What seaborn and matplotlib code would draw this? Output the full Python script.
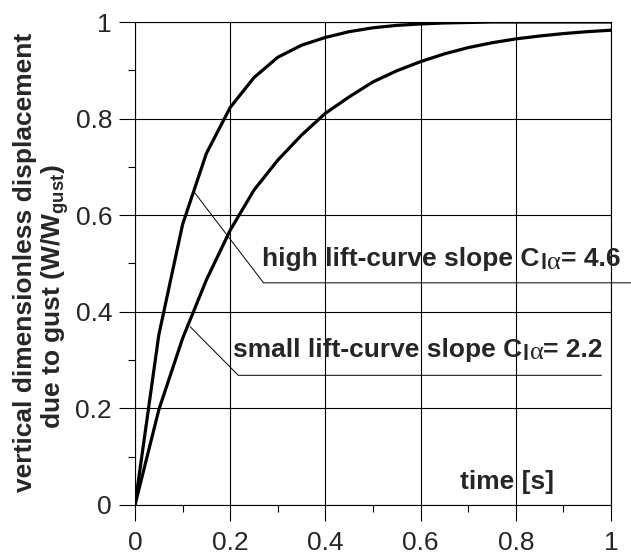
import numpy as np
import pandas as pd
import matplotlib
matplotlib.use("Agg")
import matplotlib.pyplot as plt
import seaborn as sns
from matplotlib.ticker import MultipleLocator

sns.set_theme(style="white")
plt.rcParams['font.family'] = ['Liberation Sans', 'DejaVu Sans']
plt.rcParams['mathtext.fontset'] = 'custom'
plt.rcParams['mathtext.rm'] = 'Liberation Sans:bold'
plt.rcParams['mathtext.bf'] = 'Liberation Sans:bold'
plt.rcParams['mathtext.it'] = 'Liberation Sans:bold'
plt.rcParams['mathtext.sf'] = 'Liberation Sans:bold'

# data
time = [0.0, 0.05, 0.1, 0.15, 0.2, 0.25, 0.3, 0.35, 0.4, 0.45, 0.5,
        0.55, 0.6, 0.65, 0.7, 0.75, 0.8, 0.85, 0.9, 0.95, 1.0]
high_lift = [0.0, 0.352, 0.581, 0.728, 0.823, 0.885, 0.927, 0.952, 0.968, 0.980, 0.988,
             0.993, 0.996, 0.998, 0.999, 1.0, 1.0, 1.0, 1.0, 1.0, 1.0]
small_lift = [0.0, 0.197, 0.345, 0.466, 0.569, 0.652, 0.714, 0.766, 0.811, 0.845, 0.876,
              0.899, 0.918, 0.934, 0.947, 0.957, 0.965, 0.971, 0.976, 0.980, 0.983]
series_names = ["high", "small"]
label_high_parts = ["high lift-curve slope C", "l", "\u03b1", "= 4.6"]
label_small_parts = ["small lift-curve slope C", "l", "\u03b1", "= 2.2"]
ylabel_line1 = "vertical dimensionless displacement"
ylabel_line2 = r"due to gust (W/W$_{\mathrm{gust}}$)"
xlabel_text = "time [s]"
x_ticks = [0, 0.2, 0.4, 0.6, 0.8, 1]
y_ticks = [0, 0.2, 0.4, 0.6, 0.8, 1]
tick_labels = ["0", "0.2", "0.4", "0.6", "0.8", "1"]

df = pd.DataFrame({
    "time": time * 2,
    "value": high_lift + small_lift,
    "series": [series_names[0]] * len(time) + [series_names[1]] * len(time),
})

W, H = 631, 557
fig = plt.figure(figsize=(W / 100, H / 100), dpi=100)
ax = fig.add_axes([135 / W, 1 - 505 / H, 476 / W, 483 / H])

sns.lineplot(data=df, x="time", y="value", hue="series",
             palette=["black", "black"], linewidth=2.3, legend=False, ax=ax,
             zorder=3)

ax.set_xlim(0, 1)
ax.set_ylim(0, 1)
ax.set_xticks(x_ticks)
ax.set_xticklabels(tick_labels)
ax.set_yticks(y_ticks)
ax.set_yticklabels(tick_labels)
ax.xaxis.set_minor_locator(MultipleLocator(0.1))
ax.yaxis.set_minor_locator(MultipleLocator(0.1))
ax.grid(True, which='major', color='black', linewidth=0.8)
for s in ax.spines.values():
    s.set_color('black')
    s.set_linewidth(0.8)
ax.tick_params(axis='both', which='major', direction='out', length=11.5,
               width=0.8, color='black', labelsize=19, bottom=True, left=True)
ax.tick_params(axis='both', which='minor', direction='out', length=5,
               width=0.8, color='black', bottom=True, left=True)
ax.tick_params(axis='x', which='major', pad=7)
ax.tick_params(axis='y', which='major', pad=5)

ax.set_xlabel("")
ax.set_ylabel("")
fig.text(25.5 / W, 1 - 262.5 / H, ylabel_line1, rotation=90, fontsize=19,
         fontweight='bold', ha='center', va='center')
fig.text(55 / W, 1 - 297 / H, ylabel_line2, rotation=90, fontsize=19,
         fontweight='bold', ha='center', va='center')

ax.text(0.683, 0.033, xlabel_text, fontsize=19, fontweight='bold',
        ha='left', va='baseline', transform=ax.transData)

# annotation leaders
ax.plot([0.125, 0.27, 1.045], [0.647, 0.46, 0.46], color='black', lw=0.7,
        clip_on=False, zorder=2)
ax.plot([0.116, 0.217, 0.98], [0.369, 0.2685, 0.2685], color='black', lw=0.7,
        clip_on=False, zorder=2)


def sub_label(x, y, parts):
    main, sub_l, sub_a, rest = parts
    t1 = ax.text(x, y, main, fontsize=19, fontweight='bold', ha='left',
                 va='baseline', clip_on=False, zorder=4)
    t2 = ax.annotate(sub_l, xy=(1, 0), xycoords=t1, xytext=(0.8, 1.5),
                     textcoords='offset points', fontsize=15.5,
                     fontweight='bold', ha='left', va='baseline', zorder=4)
    t3 = ax.annotate(sub_a, xy=(1, 0), xycoords=(t2, t1), xytext=(0.5, 1.8),
                     textcoords='offset points', fontsize=19,
                     family='Liberation Serif', fontweight='normal',
                     ha='left', va='baseline', zorder=4)
    ax.annotate(rest, xy=(1, 0), xycoords=(t3, t1), xytext=(0, 0),
                textcoords='offset points', fontsize=19, fontweight='bold',
                ha='left', va='bottom', zorder=4)


sub_label(0.266, 0.4948, label_high_parts)
sub_label(0.2053, 0.307, label_small_parts)

fig.savefig("out.png", dpi=100)
